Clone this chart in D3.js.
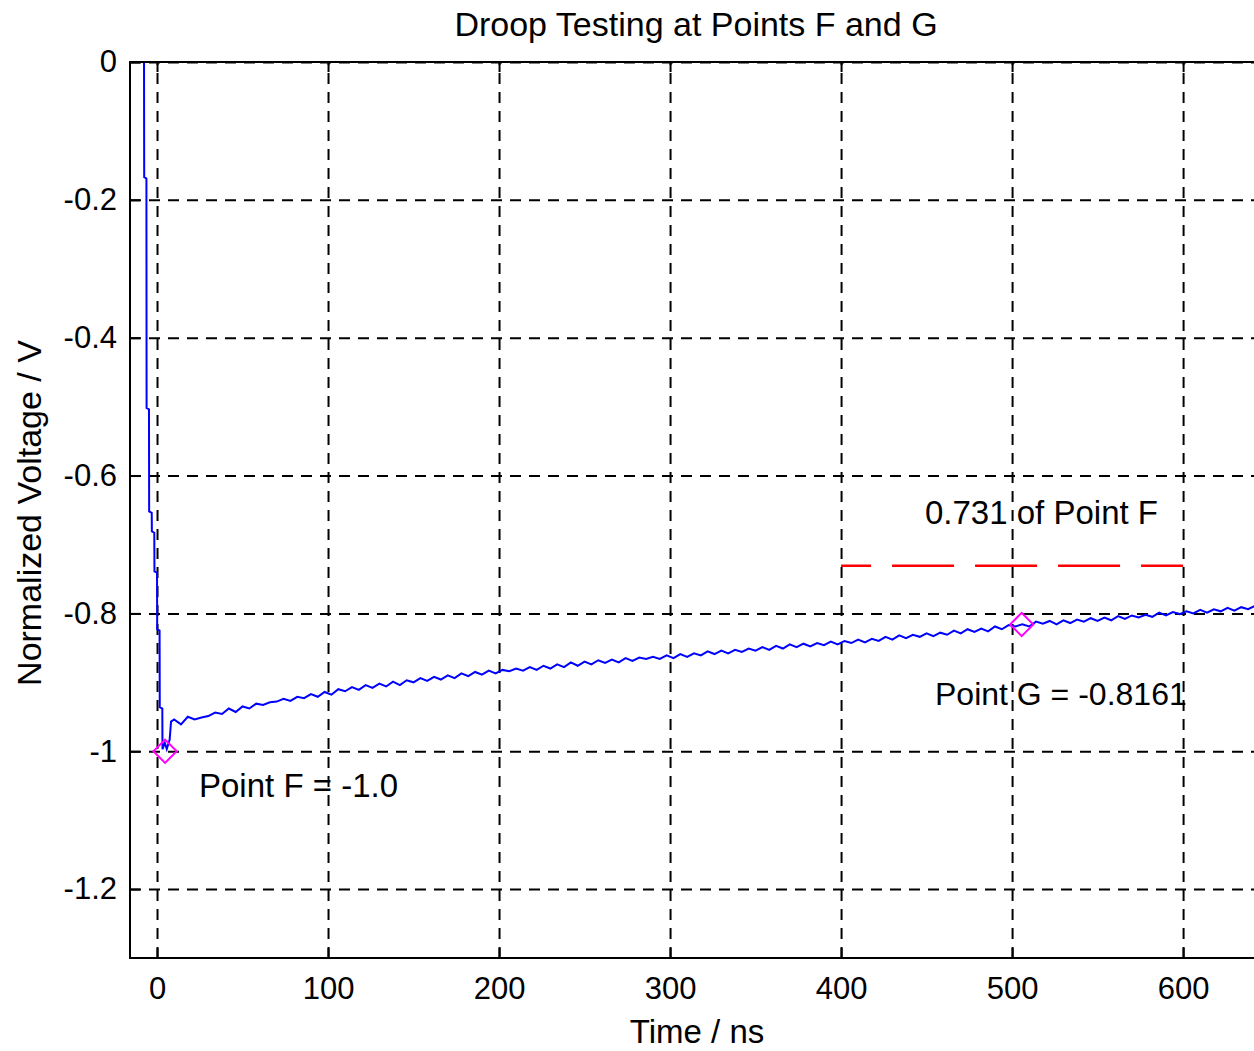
<!DOCTYPE html>
<html>
<head>
<meta charset="utf-8">
<script src="https://cdn.jsdelivr.net/npm/d3@7"></script>
<style>
  body { margin: 0; background: #fff; }
  svg { display: block; }
  text { font-family: "Liberation Sans", Arial, sans-serif; fill: #000; }
</style>
</head>
<body>
<div id="chart"></div>
<script>
// axis ticks
const xTicks = [0, 100, 200, 300, 400, 500, 600];
const yTicks = [0, -0.2, -0.4, -0.6, -0.8, -1, -1.2];
const yTickLabels = ["0", "-0.2", "-0.4", "-0.6", "-0.8", "-1", "-1.2"];

// leading edge of the pulse (ns, normalized V)
const edgeTime = [-7.6, -7.5, -6.2, -6.1, -4.7, -4.6, -3.1, -3.0, -1.6, -1.5, 0.0, 0.1, 1.5, 1.6, 3.1, 3.2, 4.6, 5.7, 7.4, 8.2];
const edgeVolt = [0, -0.167, -0.169, -0.502, -0.504, -0.652, -0.654, -0.681, -0.683, -0.739, -0.741, -0.823, -0.825, -0.936, -0.938, -0.997, -0.988, -0.997, -0.983, -0.957];

// droop part, sampled every 4 ns from 10 ns
const droopStart = 10, droopStep = 4;
const droopVolt = [
  -0.954, -0.961, -0.950, -0.954, -0.951, -0.949, -0.944, -0.946, -0.938, -0.943,
  -0.935, -0.938, -0.931, -0.933, -0.929, -0.928, -0.924, -0.927, -0.921, -0.923,
  -0.917, -0.921, -0.914, -0.918, -0.910, -0.913, -0.907, -0.911, -0.904, -0.908,
  -0.902, -0.906, -0.899, -0.904, -0.897, -0.900, -0.894, -0.898, -0.892, -0.896,
  -0.890, -0.894, -0.887, -0.891, -0.885, -0.889, -0.883, -0.887, -0.882, -0.884,
  -0.880, -0.883, -0.878, -0.882, -0.876, -0.880, -0.874, -0.878, -0.871, -0.876,
  -0.870, -0.874, -0.868, -0.872, -0.867, -0.871, -0.865, -0.869, -0.864, -0.866,
  -0.863, -0.866, -0.861, -0.865, -0.859, -0.863, -0.858, -0.861, -0.855, -0.859,
  -0.854, -0.858, -0.853, -0.856, -0.851, -0.854, -0.849, -0.853, -0.847, -0.851,
  -0.845, -0.849, -0.844, -0.848, -0.843, -0.846, -0.841, -0.845, -0.840, -0.843,
  -0.838, -0.842, -0.837, -0.840, -0.834, -0.838, -0.832, -0.836, -0.831, -0.834,
  -0.829, -0.833, -0.828, -0.831, -0.825, -0.829, -0.823, -0.827, -0.822, -0.826,
  -0.819, -0.823, -0.817, -0.819, -0.816, -0.819, -0.812, -0.815, -0.811, -0.816,
  -0.810, -0.814, -0.809, -0.812, -0.807, -0.811, -0.806, -0.810, -0.804, -0.808,
  -0.803, -0.806, -0.802, -0.805, -0.799, -0.803, -0.798, -0.801, -0.797, -0.800,
  -0.795, -0.799, -0.794, -0.797, -0.792, -0.796, -0.791, -0.794, -0.789, -0.792
];

// marked points and the 0.731 reference level
const pointF = [4.7, -1.0];
const pointG = [505.6, -0.8161];
const refLevelTime = [400, 600];
const refLevelVolt = -0.731;

const margin = { top: 62, left: 130 };
const W = 1254, H = 1051;
const width = 1135, height = 896;

const x = d3.scaleLinear().domain([-15.8, 647.9]).range([0, width]);
const y = d3.scaleLinear().domain([-1.3, 0]).range([height, 0]);

const svg = d3.select("#chart").append("svg")
  .attr("width", W).attr("height", H);

svg.append("defs").append("clipPath").attr("id", "plotclip")
  .append("rect").attr("width", width).attr("height", height);

const g = svg.append("g")
  .attr("transform", "translate(" + margin.left + "," + margin.top + ")");

g.append("rect").attr("width", width).attr("height", height).attr("fill", "#fff");

// annotations (grid is drawn over them, like the original)
g.append("text").attr("x", 199 - margin.left).attr("y", 797 - margin.top)
  .attr("font-size", 33).text("Point F = -1.0");
g.append("text").attr("x", 925 - margin.left).attr("y", 524 - margin.top)
  .attr("font-size", 33).text("0.731 of Point F");
g.append("text").attr("x", 935 - margin.left).attr("y", 705 - margin.top)
  .attr("font-size", 32).text("Point G = -0.8161");

// grid
const gridStyle = sel => {
  sel.select(".domain").remove();
  sel.selectAll(".tick line").attr("stroke", "#000").attr("stroke-width", 2)
    .attr("stroke-dasharray", "11,8");
};
g.append("g").attr("transform", "translate(0," + height + ")")
  .call(d3.axisBottom(x).tickValues(xTicks).tickSize(-height).tickFormat(""))
  .call(gridStyle);
g.append("g")
  .call(d3.axisLeft(y).tickValues(yTicks).tickSize(-width).tickFormat(""))
  .call(gridStyle);

// data
const data = edgeTime.map((t, i) => [t, edgeVolt[i]])
  .concat(droopVolt.map((v, i) => [droopStart + i * droopStep, v]));

const line = d3.line().x(d => x(d[0])).y(d => y(d[1]));

const plot = g.append("g").attr("clip-path", "url(#plotclip)");

plot.append("path").datum(data)
  .attr("d", line)
  .attr("fill", "none").attr("stroke", "#0000ff").attr("stroke-width", 2)
  .attr("stroke-linejoin", "miter");

plot.append("line")
  .attr("x1", x(refLevelTime[0])).attr("x2", x(refLevelTime[1]))
  .attr("y1", y(refLevelVolt)).attr("y2", y(refLevelVolt))
  .attr("stroke", "#ff0000").attr("stroke-width", 2.5)
  .attr("stroke-dasharray", "62,21").attr("stroke-dashoffset", 32);

const diamond = d3.symbol().type(d3.symbolSquare).size(270);
plot.selectAll(".marker").data([pointF, pointG]).enter().append("path")
  .attr("class", "marker")
  .attr("d", diamond)
  .attr("transform", d => "translate(" + x(d[0]) + "," + y(d[1]) + ") rotate(45)")
  .attr("fill", "none").attr("stroke", "#ff00ff").attr("stroke-width", 2);

// axes: ticks inside the box
const axisStyle = sel => {
  sel.select(".domain").remove();
  sel.selectAll(".tick line").attr("stroke", "#000").attr("stroke-width", 2);
  sel.selectAll(".tick text").attr("fill", "#000").attr("font-size", 31)
    .attr("font-family", "Liberation Sans, Arial, sans-serif");
};

g.append("g").attr("transform", "translate(0," + height + ")")
  .call(d3.axisBottom(x).tickValues(xTicks).tickSizeInner(-10).tickSizeOuter(0)
    .tickPadding(19).tickFormat(d3.format("d")))
  .call(axisStyle);

g.append("g")
  .call(d3.axisTop(x).tickValues(xTicks).tickSizeInner(-10).tickSizeOuter(0).tickFormat(""))
  .call(axisStyle);

g.append("g")
  .call(d3.axisLeft(y).tickValues(yTicks).tickSizeInner(-10).tickSizeOuter(0)
    .tickPadding(13).tickFormat((d, i) => yTickLabels[i]))
  .call(axisStyle);

// box
g.append("rect").attr("width", width).attr("height", height)
  .attr("fill", "none").attr("stroke", "#000").attr("stroke-width", 2);

// titles
svg.append("text").attr("x", 696).attr("y", 36).attr("text-anchor", "middle")
  .attr("font-size", 34).text("Droop Testing at Points F and G");
svg.append("text").attr("x", 697).attr("y", 1043).attr("text-anchor", "middle")
  .attr("font-size", 33).text("Time / ns");
svg.append("text").attr("transform", "translate(41,513) rotate(-90)")
  .attr("text-anchor", "middle").attr("font-size", 34).text("Normalized Voltage / V");
</script>
</body>
</html>
